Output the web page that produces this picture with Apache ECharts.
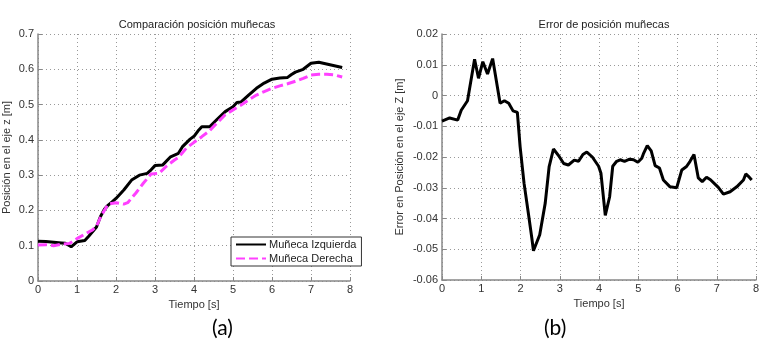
<!DOCTYPE html>
<html>
<head>
<meta charset="utf-8">
<script src="https://cdn.jsdelivr.net/npm/echarts@6/dist/echarts.min.js"></script>
<style>
  html, body { margin: 0; padding: 0; background: #fff; }
  #chart { width: 772px; height: 351px; }
</style>
</head>
<body>
<div id="chart"></div>
<script>
// Muñeca Izquierda
var izqTime = [0, 0.2, 0.4, 0.6, 0.7, 0.85, 1.0, 1.2, 1.3, 1.5, 1.6, 1.7, 1.8, 1.9, 2.0, 2.2, 2.4, 2.6, 2.8, 2.9,
    3.0, 3.2, 3.4, 3.6, 3.7, 3.9, 4.0, 4.1, 4.2, 4.4, 4.6, 4.8, 5.0, 5.1, 5.2, 5.4, 5.6, 5.8, 6.0, 6.2,
    6.4, 6.5, 6.6, 6.8, 7.0, 7.2, 7.4, 7.6, 7.8];
var izqValues = [0.113, 0.112, 0.110, 0.108, 0.107, 0.097, 0.111, 0.115, 0.127, 0.153, 0.182, 0.203, 0.215, 0.224, 0.234, 0.258, 0.286, 0.300, 0.305, 0.315,
    0.327, 0.329, 0.352, 0.362, 0.380, 0.402, 0.410, 0.425, 0.437, 0.437, 0.459, 0.480, 0.494, 0.506, 0.507, 0.527, 0.546, 0.561, 0.572, 0.575,
    0.577, 0.585, 0.592, 0.600, 0.617, 0.620, 0.615, 0.610, 0.605];

// Muñeca Derecha
var derTime = [0, 0.2, 0.4, 0.6, 0.8, 1.0, 1.2, 1.4, 1.5, 1.6, 1.7, 1.8, 2.0, 2.2, 2.3, 2.5, 2.7, 2.9, 3.1, 3.3,
    3.5, 3.6, 3.8, 4.0, 4.2, 4.4, 4.6, 4.8, 5.0, 5.2, 5.4, 5.6, 5.8, 6.0, 6.2, 6.4, 6.6, 6.8, 7.0, 7.2,
    7.4, 7.6, 7.8];
var derValues = [0.102, 0.103, 0.100, 0.104, 0.106, 0.120, 0.133, 0.145, 0.155, 0.180, 0.200, 0.218, 0.222, 0.218, 0.222, 0.248, 0.277, 0.303, 0.305, 0.326,
    0.343, 0.350, 0.376, 0.393, 0.409, 0.426, 0.449, 0.471, 0.485, 0.498, 0.513, 0.527, 0.537, 0.546, 0.553, 0.559, 0.566, 0.574, 0.584, 0.586,
    0.586, 0.584, 0.578];

// Error de posicion
var errTime = [0, 0.195, 0.40, 0.49, 0.65, 0.83, 0.93, 1.04, 1.16, 1.29, 1.48, 1.59, 1.70, 1.81, 1.92, 1.99, 2.09, 2.20, 2.29, 2.33,
    2.49, 2.63, 2.73, 2.84, 2.99, 3.10, 3.22, 3.37, 3.48, 3.59, 3.69, 3.83, 3.99, 4.05, 4.16, 4.27, 4.35, 4.45, 4.54, 4.65,
    4.78, 4.88, 4.99, 5.09, 5.13, 5.23, 5.33, 5.43, 5.54, 5.64, 5.81, 5.98, 6.11, 6.23, 6.32, 6.42, 6.53, 6.63, 6.74, 6.84,
    7.04, 7.17, 7.34, 7.51, 7.68, 7.74, 7.80, 7.89];
var errValues = [-0.0083, -0.0073, -0.0080, -0.0048, -0.0017, 0.0118, 0.0056, 0.0110, 0.0070, 0.0120, -0.0025, -0.0017, -0.0025, -0.0050, -0.0055, -0.0166, -0.0285, -0.0383, -0.0465, -0.0505,
    -0.0453, -0.0350, -0.0231, -0.0174, -0.0199, -0.0221, -0.0226, -0.0210, -0.0214, -0.0192, -0.0184, -0.0200, -0.0230, -0.0253, -0.0390, -0.0330, -0.0230, -0.0214, -0.0209, -0.0214,
    -0.0207, -0.0209, -0.0217, -0.0204, -0.0190, -0.0163, -0.0180, -0.0228, -0.0236, -0.0275, -0.0297, -0.0300, -0.0242, -0.0231, -0.0214, -0.0192, -0.0268, -0.0280, -0.0266, -0.0274,
    -0.0299, -0.0321, -0.0313, -0.0297, -0.0275, -0.0255, -0.0262, -0.0275];

function zip(xs, ys) {
    var out = [];
    for (var i = 0; i < xs.length; i++) out.push([xs[i], ys[i]]);
    return out;
}

var font = 'Liberation Sans, Arial, sans-serif';

function xAxisCfg(idx) {
    return {
        type: 'value', gridIndex: idx, min: 0, max: 8, interval: 1,
        name: 'Tiempo [s]', nameLocation: 'middle', nameGap: 15,
        nameTextStyle: {color: '#333', fontSize: 11, fontFamily: font},
        axisLine: {onZero: false, lineStyle: {color: '#888', width: 1.5}},
        axisTick: {inside: true, length: 4, lineStyle: {color: '#888'}},
        axisLabel: {color: '#333', fontSize: 11, fontFamily: font, margin: 3},
        splitLine: {show: true, lineStyle: {type: [1, 3], color: '#999'}}
    };
}

function yAxisCfg(idx, min, max, interval, name, gap) {
    return {
        type: 'value', gridIndex: idx, min: min, max: max, interval: interval,
        name: name, nameLocation: 'middle', nameGap: gap,
        nameTextStyle: {color: '#333', fontSize: 11, fontFamily: font},
        axisLine: {show: true, onZero: false, lineStyle: {color: '#888', width: 1.5}},
        axisTick: {show: true, inside: true, length: 4, lineStyle: {color: '#888'}},
        axisLabel: {color: '#333', fontSize: 11, fontFamily: font, margin: 4},
        splitLine: {show: true, lineStyle: {type: [1, 3], color: '#999'}}
    };
}

var myChart = echarts.init(document.getElementById('chart'));
var option = {
    animation: false,
    backgroundColor: '#fff',
    title: [
        {text: 'Comparación posición muñecas', left: 192, top: 14, textAlign: 'center',
            textStyle: {fontSize: 11, fontWeight: 'normal', color: '#222', fontFamily: font}},
        {text: 'Error de posición muñecas', left: 599, top: 14, textAlign: 'center',
            textStyle: {fontSize: 11, fontWeight: 'normal', color: '#222', fontFamily: font}}
    ],
    legend: {
        orient: 'vertical', left: 231, top: 237,
        padding: [2, 5, 2, 4], itemGap: 3, itemWidth: 30, itemHeight: 11,
        borderColor: '#333', borderWidth: 1, backgroundColor: '#fff', borderRadius: 0,
        itemStyle: {opacity: 0},
        textStyle: {fontSize: 11, color: '#222', fontFamily: font, padding: [0, 0, 0, -2]},
        data: ['Muñeca Izquierda', 'Muñeca Derecha']
    },
    grid: [
        {left: 35, top: 34, width: 315, height: 247},
        {left: 442, top: 34, width: 314, height: 246}
    ],
    xAxis: [xAxisCfg(0), xAxisCfg(1)],
    yAxis: [
        yAxisCfg(0, 0, 0.7, 0.1, 'Posición en el eje z [m]', 26),
        yAxisCfg(1, -0.06, 0.02, 0.01, 'Error en Posición en el eje Z [m]', 37)
    ],
    graphic: [
        {type: 'text', left: 212, top: 318, style: {text: '(a)', fontSize: 21, fill: '#000', fontFamily: 'Lato, sans-serif'}},
        {type: 'text', left: 544, top: 318, style: {text: '(b)', fontSize: 21, fill: '#000', fontFamily: 'Lato, sans-serif'}}
    ],
    series: [
        {
            name: 'Muñeca Izquierda', type: 'line', xAxisIndex: 0, yAxisIndex: 0,
            symbol: 'none', color: '#000',
            lineStyle: {color: '#000', width: 3},
            data: zip(izqTime, izqValues)
        },
        {
            name: 'Muñeca Derecha', type: 'line', xAxisIndex: 0, yAxisIndex: 0,
            symbol: 'none', color: '#ff40ff',
            lineStyle: {color: '#ff40ff', width: 3, type: [9, 4]},
            data: zip(derTime, derValues)
        },
        {
            name: 'Error', type: 'line', xAxisIndex: 1, yAxisIndex: 1,
            symbol: 'none', color: '#000',
            lineStyle: {color: '#000', width: 3},
            data: zip(errTime, errValues)
        }
    ]
};

// 为echarts对象加载数据
myChart.setOption(option);
</script>
</body>
</html>
